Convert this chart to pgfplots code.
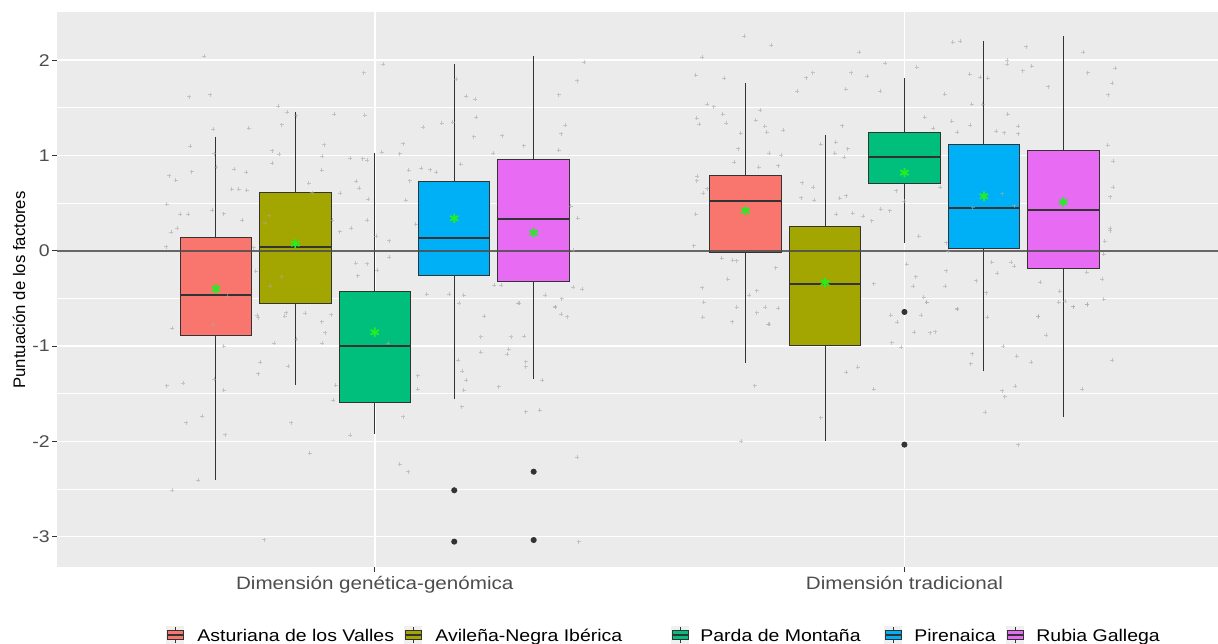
\documentclass[border=0pt]{standalone}
\usepackage{pgfplots}
\pgfplotsset{compat=1.18}
\usepgfplotslibrary{statistics}
\usepackage{fontspec}
\setmainfont{Liberation Sans}
\newfontfamily\tickfont{Liberation Sans}[FakeStretch=1.15]
\definecolor{ggred}{HTML}{F8766D}
\definecolor{ggolive}{HTML}{A3A500}
\definecolor{gggreen}{HTML}{00BF7D}
\definecolor{ggblue}{HTML}{00B0F6}
\definecolor{ggpink}{HTML}{E76BF3}
\definecolor{ggbg}{HTML}{EBEBEB}
\definecolor{gg20}{HTML}{333333}
\definecolor{gg30}{HTML}{4D4D4D}
\definecolor{meangreen}{HTML}{22EE22}
\definecolor{jit}{HTML}{A8A8A8}
\begin{document}
\begin{tikzpicture}
\begin{axis}[
  at={(0,0)}, anchor=south west,
  scale only axis, width=580.5bp, height=277.5bp,
  xmin=0.4, xmax=2.592, ymin=-3.315, ymax=2.509,
  axis background/.style={fill=ggbg},
  axis line style={draw=none},
  xtick={1,2}, xticklabels={Dimensión genética-genómica, Dimensión tradicional},
  ytick={-3,-2,-1,0,1,2}, yticklabels={-3,-2,-1,0,1,2},
  minor ytick={-2.5,-1.5,-0.5,0.5,1.5},
  minor tick length=0pt,
  tick pos=left, tick align=outside, major tick length=2.5bp,
  tick style={gg20, line width=0.5bp},
  xmajorgrids, ymajorgrids, yminorgrids,
  major grid style={white, line width=0.8bp},
  minor grid style={white, line width=0.4bp},
  yticklabel style={font=\tickfont\fontsize{8.5}{10}\selectfont, text=gg30, inner xsep=1bp},
  xticklabel style={font=\tickfont\fontsize{9}{11}\selectfont, text=gg30, inner ysep=2bp},
  boxplot/draw direction=y,
  boxplot/every median/.style={line width=1bp},
  boxplot/whisker extend=0,
]
% boxes
\addplot[draw=gg20, line width=0.5bp, fill=ggred, boxplot prepared={draw position=0.7, box extend=0.135, lower whisker=-2.40, lower quartile=-0.884, median=-0.464, upper quartile=0.137, upper whisker=1.197}] coordinates {};
\addplot[draw=gg20, line width=0.5bp, fill=ggolive, boxplot prepared={draw position=0.85, box extend=0.135, lower whisker=-1.408, lower quartile=-0.548, median=0.04, upper quartile=0.61, upper whisker=1.46}] coordinates {};
\addplot[draw=gg20, line width=0.5bp, fill=gggreen, boxplot prepared={draw position=1.0, box extend=0.135, lower whisker=-1.922, lower quartile=-1.59, median=-1.002, upper quartile=-0.425, upper whisker=1.023}] coordinates {};
\addplot[draw=gg20, line width=0.5bp, fill=ggblue, mark=*, mark size=1.25bp, mark options={fill=gg20, draw=gg20, solid}, boxplot prepared={draw position=1.15, box extend=0.135, lower whisker=-1.559, lower quartile=-0.264, median=0.137, upper quartile=0.725, upper whisker=1.957}] table[row sep=\\, y index=0] {v\\ -2.513\\ -3.052\\};
\addplot[draw=gg20, line width=0.5bp, fill=ggpink, mark=*, mark size=1.25bp, mark options={fill=gg20, draw=gg20, solid}, boxplot prepared={draw position=1.3, box extend=0.135, lower whisker=-1.345, lower quartile=-0.317, median=0.334, upper quartile=0.96, upper whisker=2.047}] table[row sep=\\, y index=0] {v\\ -2.318\\ -3.035\\};
\addplot[draw=gg20, line width=0.5bp, fill=ggred, boxplot prepared={draw position=1.7, box extend=0.135, lower whisker=-1.177, lower quartile=-0.016, median=0.526, upper quartile=0.795, upper whisker=1.761}] coordinates {};
\addplot[draw=gg20, line width=0.5bp, fill=ggolive, boxplot prepared={draw position=1.85, box extend=0.135, lower whisker=-1.993, lower quartile=-0.992, median=-0.348, upper quartile=0.257, upper whisker=1.218}] coordinates {};
\addplot[draw=gg20, line width=0.5bp, fill=gggreen, mark=*, mark size=1.25bp, mark options={fill=gg20, draw=gg20, solid}, boxplot prepared={draw position=2.0, box extend=0.135, lower whisker=0.085, lower quartile=0.708, median=0.987, upper quartile=1.239, upper whisker=1.813}] table[row sep=\\, y index=0] {v\\ -0.642\\ -2.034\\};
\addplot[draw=gg20, line width=0.5bp, fill=ggblue, boxplot prepared={draw position=2.15, box extend=0.135, lower whisker=-1.265, lower quartile=0.026, median=0.446, upper quartile=1.113, upper whisker=2.198}] coordinates {};
\addplot[draw=gg20, line width=0.5bp, fill=ggpink, boxplot prepared={draw position=2.3, box extend=0.135, lower whisker=-1.747, lower quartile=-0.184, median=0.428, upper quartile=1.051, upper whisker=2.25}] coordinates {};
% zero line
\addplot[draw=gg30, line width=0.75bp, opacity=0.85] coordinates {(0.4,0) (2.592,0)};
% jittered observations
\addplot[only marks, mark=+, mark size=1bp, jit, opacity=0.6, mark options={line width=0.35bp}] table {
x y
0.678 2.044
0.650 1.618
0.689 1.639
0.695 1.275
0.762 1.289
0.652 1.100
0.654 0.831
0.697 1.019
0.700 0.876
0.734 0.855
0.757 0.824
0.612 0.789
0.624 0.743
0.730 0.645
0.743 0.645
0.758 0.635
0.607 0.488
0.633 0.383
0.648 0.383
0.693 0.425
0.715 0.390
0.750 0.323
0.615 0.194
0.627 0.239
0.606 0.043
0.817 1.520
0.824 1.324
0.835 1.457
0.852 1.418
0.923 1.432
0.904 1.114
0.901 0.991
0.806 1.051
0.819 1.012
0.806 0.921
0.875 0.708
0.882 0.610
0.900 0.848
0.935 0.603
0.970 0.656
0.954 0.970
0.977 0.967
0.985 0.949
0.965 0.729
0.987 0.544
1.013 1.033
0.981 1.425
0.979 1.869
1.016 1.957
1.054 1.124
1.047 1.019
1.064 0.848
1.088 0.869
1.104 0.851
1.116 0.827
1.091 1.299
1.126 1.341
1.147 1.348
1.154 1.803
1.173 1.621
1.189 1.590
1.191 1.404
1.187 1.198
1.162 0.907
1.224 1.023
1.241 1.208
1.281 1.103
1.347 1.639
1.382 1.785
1.395 1.978
1.360 1.320
1.352 1.229
1.347 1.054
1.383 0.341
1.370 0.467
1.374 0.008
1.027 0.106
1.003 0.155
0.985 0.320
1.077 0.281
1.058 0.533
1.066 0.736
0.800 0.369
0.793 0.292
0.934 0.201
0.919 0.323
0.956 0.239
0.824 -0.271
0.802 -0.373
0.775 -0.212
0.771 0.033
0.964 -0.131
0.985 -0.135
0.968 -0.261
1.027 -0.068
1.005 -0.201
1.098 -0.457
1.140 -0.457
1.168 -0.467
1.159 -0.548
1.225 -0.362
1.238 -0.359
1.271 -0.548
1.322 -0.467
1.353 -0.502
1.340 -0.586
1.363 -0.691
1.375 -0.383
1.392 -0.404
0.833 -0.649
0.868 -0.656
0.900 -0.744
0.918 -0.670
0.721 -0.474
0.780 -0.701
0.618 -0.814
0.695 -0.775
0.715 -1.002
0.697 -1.345
0.715 -1.464
0.607 -1.415
0.638 -1.387
0.674 -1.733
0.644 -1.803
0.718 -1.929
0.666 -2.405
0.618 -2.513
0.791 -3.031
0.778 -0.677
0.830 -0.684
0.906 -0.859
0.810 -0.971
0.851 -0.929
0.901 -0.971
0.784 -1.167
0.780 -1.289
0.836 -1.212
0.842 -1.803
0.877 -2.125
0.926 -1.411
0.922 -1.565
0.953 -1.936
1.025 -0.971
1.054 -1.740
1.047 -2.237
1.063 -2.317
1.081 -1.310
1.081 -1.453
1.158 -1.146
1.165 -1.265
1.173 -1.356
1.168 -1.460
1.164 -1.635
1.200 -0.901
1.200 -1.065
1.207 -0.684
1.253 -1.034
1.250 -1.086
1.258 -0.901
1.282 -0.894
1.234 -1.425
1.285 -1.163
1.285 -1.216
1.316 -1.356
1.285 -1.688
1.311 -1.670
1.341 -0.593
1.352 -0.663
1.382 -2.167
1.385 -3.052
1.272 -0.551
1.697 2.251
1.748 2.160
1.618 2.034
1.914 2.086
1.606 1.841
1.660 1.813
1.797 1.674
1.814 1.817
1.827 1.869
1.889 1.698
1.900 1.869
1.930 1.834
1.954 1.677
1.964 1.967
2.023 1.929
2.091 2.191
2.105 2.202
2.194 1.999
2.194 1.960
2.230 2.142
2.223 1.890
2.240 1.936
2.271 1.723
2.338 2.086
2.346 1.869
2.398 1.918
2.392 1.761
2.385 1.639
2.123 1.852
2.143 1.820
2.157 1.810
2.076 1.646
2.127 1.537
1.627 1.541
1.640 1.513
1.608 1.390
1.613 1.327
1.657 1.432
1.663 1.338
1.727 1.478
1.719 1.373
1.736 1.310
1.740 1.247
1.771 1.268
1.691 1.233
1.686 1.072
1.679 0.928
1.745 1.023
1.767 1.002
1.761 0.893
1.725 0.876
1.609 0.785
1.608 0.736
1.627 0.652
1.620 0.603
1.606 0.383
1.602 0.054
1.882 1.313
1.870 1.138
1.893 1.072
1.886 0.981
1.868 1.023
1.842 1.121
1.807 0.715
1.828 0.666
1.805 0.558
1.829 0.530
1.878 0.551
1.890 0.579
1.871 0.386
1.902 0.393
1.922 0.365
1.938 0.316
1.955 0.435
1.972 0.421
1.984 0.631
1.999 0.523
2.027 0.155
2.038 1.404
2.054 1.289
2.068 0.666
2.089 1.359
2.100 1.243
2.124 1.317
2.148 1.541
2.173 1.254
2.188 1.240
2.195 1.432
2.215 1.306
2.215 1.229
2.184 0.600
2.207 0.474
2.079 0.085
2.082 -0.002
2.129 0.453
2.384 1.107
2.394 0.939
2.388 0.568
2.394 0.666
2.389 0.239
2.389 0.211
2.378 0.099
2.376 -0.034
2.373 -0.299
2.376 -0.509
2.344 -0.222
2.345 -0.562
2.318 -0.586
2.304 -0.530
2.291 -0.537
2.252 -0.691
2.256 -0.327
2.293 -0.425
2.201 -0.117
2.207 -0.159
2.175 -0.236
2.154 -0.439
2.135 -0.313
2.100 -0.607
2.165 -0.121
2.079 -0.208
2.077 -0.369
2.036 -0.485
2.042 -0.541
2.031 -0.677
2.021 -0.271
2.016 -0.369
2.004 -0.142
1.986 -0.747
1.974 -0.677
1.942 -0.345
1.655 -0.079
1.676 -0.100
1.683 -0.103
1.666 -0.299
1.618 -0.387
1.621 -0.541
1.619 -0.698
1.675 -0.744
1.683 -0.593
1.707 -0.467
1.721 -0.418
1.721 -0.649
1.737 -0.590
1.745 -0.768
1.757 -0.177
1.762 -0.604
1.743 -0.771
1.717 -1.415
1.692 -2.000
1.842 -1.751
1.890 -1.275
1.912 -1.223
1.942 -1.453
1.976 -0.964
1.994 -1.009
2.018 -0.852
2.049 -0.859
2.058 -0.848
2.042 -0.540
2.100 -0.610
2.128 -1.079
2.125 -1.184
2.156 -0.698
2.153 -1.691
2.186 -0.999
2.212 -1.107
2.239 -1.167
2.185 -1.467
2.189 -1.530
2.209 -1.418
2.215 -2.034
2.252 -0.687
2.267 -0.883
2.319 -0.586
2.345 -0.565
2.336 -1.450
2.392 -1.149
};
% means
\addplot[only marks, mark=asterisk, mark size=2.4bp, meangreen, mark options={line width=0.9bp}] coordinates {
(0.7,-0.40) (0.85,0.075) (1.0,-0.855) (1.15,0.341) (1.3,0.19)
(1.7,0.421) (1.85,-0.334) (2.0,0.82) (2.15,0.572) (2.3,0.512)};
\end{axis}
% y label
\node[rotate=90, font=\fontsize{8.4}{10}\selectfont, text=black] at (-19bp,138.35bp) {Puntuación de los factores};
% legend
\foreach \cx/\col/\tx/\lab in {59/ggred/70/Asturiana de los Valles, 178/ggolive/189/Avileña-Negra Ibérica, 311.5/gggreen/321.5/Parda de Montaña, 418/ggblue/428.5/Pirenaica, 479/ggpink/489.5/Rubia Gallega}{
  \fill[black!6] (\cx bp-4.6bp,-38.8bp) rectangle (\cx bp+4.6bp,-29.5bp);
  \draw[gg20, line width=0.4bp] (\cx bp,-38.2bp) -- (\cx bp,-30.1bp);
  \draw[gg20, line width=0.4bp, fill=\col] (\cx bp-4bp,-36.5bp) rectangle (\cx bp+4bp,-31.8bp);
  \draw[gg20, line width=0.7bp] (\cx bp-4bp,-34.15bp) -- (\cx bp+4bp,-34.15bp);
  \node[anchor=base west, inner sep=0pt, font=\tickfont\fontsize{8.5}{10}\selectfont] at (\tx bp,-37.2bp) {\lab};
}
\pgfresetboundingbox
\useasboundingbox (-28.5bp,-38.65bp) rectangle (580.5bp,283.35bp);
\end{tikzpicture}
\end{document}
